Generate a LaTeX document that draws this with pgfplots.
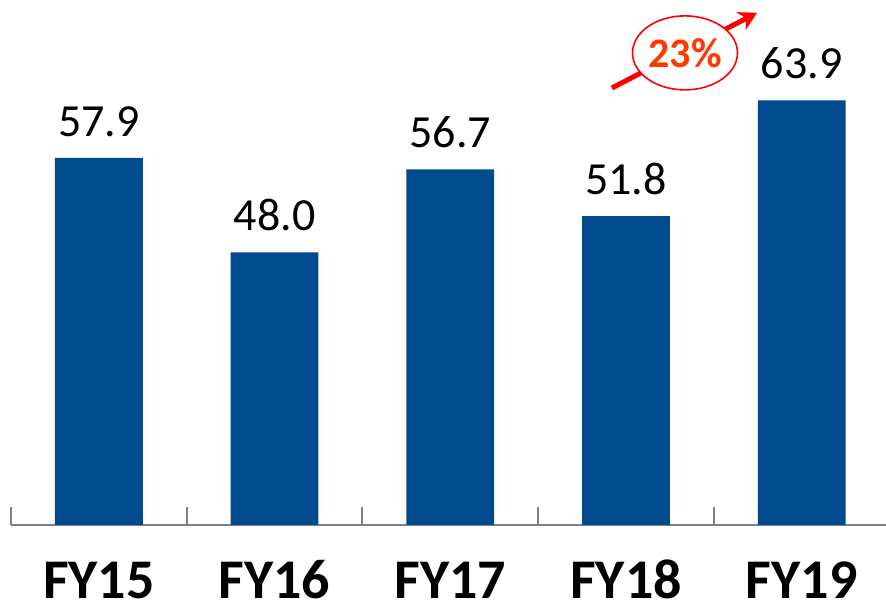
\documentclass[border=0pt]{standalone}
\usepackage{fontspec}
\setmainfont{Carlito}
\usepackage{pgfplots}
\pgfplotsset{compat=1.18}
\usetikzlibrary{arrows.meta,shapes.geometric}
\definecolor{barblue}{RGB}{0,75,141}
\definecolor{axgray}{RGB}{128,128,128}
\definecolor{growred}{RGB}{255,58,0}

\begin{document}
\begin{tikzpicture}
\useasboundingbox (-5.5pt,-39pt) rectangle (437.5pt,262.5pt);
\begin{axis}[
    scale only axis,
    width=437.5pt, height=262.5pt,
    xmin=-0.5, xmax=4.48,
    ymin=19.5, ymax=74.4,
    axis x line=bottom, axis y line=none,
    axis line style={-, draw=axgray, line width=1pt},
    xtick=data,
    xticklabels={FY15,FY16,FY17,FY18,FY19},
    major tick length=0pt,
    xticklabel style={font=\fontsize{28}{32}\selectfont\bfseries, anchor=north, inner sep=0pt,
        text height=18pt, text depth=0pt, yshift=-18.5pt},
    extra x ticks={-0.5,0.5,1.5,2.5,3.5},
    extra x tick labels={},
    extra x tick style={major tick length=9pt, tick align=inside, tick style={draw=axgray, line width=1pt}},
    ymajorticks=false,
    clip=false,
    nodes near coords={\pgfmathprintnumber[fixed,fixed zerofill,precision=1,assume math mode=true]{\pgfplotspointmeta}},
    every node near coord/.append style={font=\fontsize{23}{27}\selectfont, anchor=south, inner sep=0pt, yshift=10.5pt},
]
\addplot[ybar, bar width=0.5, fill=barblue, draw=none, bar shift=0pt]
    coordinates {(0,57.9) (1,48.0) (2,56.7) (3,51.8) (4,63.9)};
\draw[red, line width=2.5pt, -{Stealth[length=9pt,width=10pt]}] (axis cs:2.92,65.2) -- (axis cs:3.746,73.06);
\node[ellipse, draw=red, line width=0.8pt, fill=white, minimum width=52.5pt, minimum height=37pt, inner sep=0pt,
      text=growred, font=\fontsize{21}{25}\selectfont\bfseries] at (axis cs:3.336,68.87) {23\%};
\end{axis}
\end{tikzpicture}
\end{document}
